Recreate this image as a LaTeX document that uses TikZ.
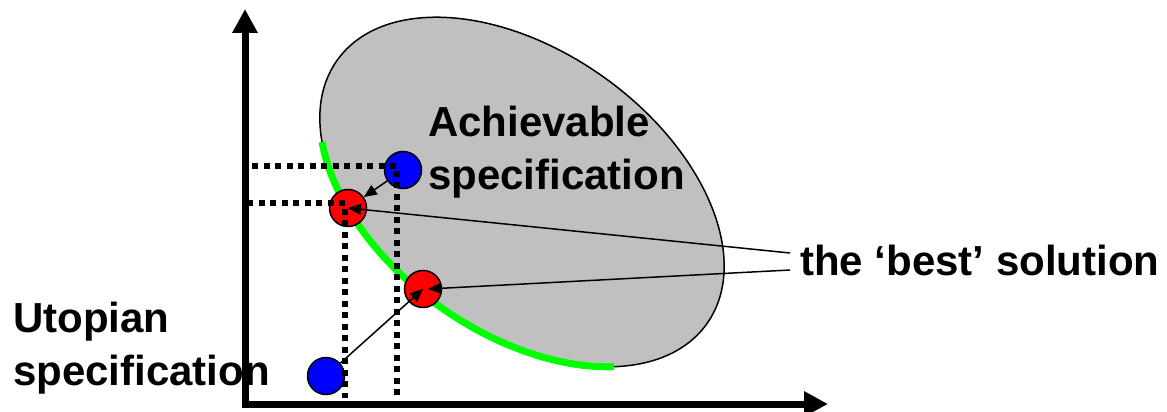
\documentclass[tikz,border=0pt]{standalone}
\usepackage{fontspec}
\setmainfont{Liberation Sans}
\usetikzlibrary{arrows.meta}

\definecolor{region}{RGB}{192,192,192}
\definecolor{front}{RGB}{0,255,0}

\begin{document}
\begin{tikzpicture}[x=1pt, y=1pt, >={Triangle[length=13pt,width=11pt]},
	spec/.style={circle, draw=black, line width=1.5pt, minimum size=37pt, inner sep=0pt},
	lbl/.style={font=\fontsize{42}{53}\selectfont\bfseries, inner sep=0pt, align=left},
	guide/.style={line width=6pt, dash pattern=on 6pt off 5.5pt},
	pointer/.style={->, line width=1.5pt},
	axis/.style={line width=7pt, miter limit=10, {Triangle[length=24pt,width=24pt]}-{Triangle[length=24pt,width=24pt]}}]
	\useasboundingbox (0,0) rectangle (1167,-412);
	% achievable region and its front
	\begin{scope}[shift={(522,-192)}, rotate=-35.5]
		\draw[fill=region, line width=1.5pt] (0,0) ellipse [x radius=227, y radius=141];
		\draw[front, line width=7pt] (212.3:227 and 141) arc [start angle=212.3, end angle=321, x radius=227, y radius=141];
	\end{scope}
	\node[lbl, anchor=north west] (goal) at (428,-106) {Achievable\\specification};
	\node[lbl, anchor=north west] (ideal) at (13,-302) {Utopian\\specification};
	\node[lbl, anchor=base west] (best) at (800,-275) {the ‘best’ solution};
	% specifications
	\node[spec, fill=blue] (u1) at (403,-170) {};
	\node[spec, fill=red] (r1) at (348,-208) {};
	\node[spec, fill=red] (r2) at (423,-289) {};
	\node[spec, fill=blue] (u2) at (326,-376) {};
	\coordinate (p1) at ([shift={(-6,4)}]u1.center);
	\coordinate (p2) at ([shift={(-3,5)}]r1.center);
	\coordinate (origin) at (245,-404);
	\coordinate (ytop) at (245,-9);
	\coordinate (xend) at (828,-404);
	\coordinate (t1) at ([shift={(-10,22)}]best.base west);
	\coordinate (t2) at ([shift={(-10,5)}]best.base west);
	% projections on the axes
	\draw[guide] ([xshift=7]origin |- p1) -- (p1) -- ([yshift=9]p1 |- origin);
	\draw[guide] ([xshift=2]origin |- p2) -- (p2) -- ([yshift=6]p2 |- origin);
	\draw[pointer] (u1) -- (r1);
	\draw[pointer] (u2) -- (r2.center);
	\draw[pointer] (t1) -- (r1.center);
	\draw[pointer] (t2) -- ([xshift=5]r2.center);
	% axes
	\draw[axis] (ytop) -- (origin) -- (xend);
\end{tikzpicture}
\end{document}
